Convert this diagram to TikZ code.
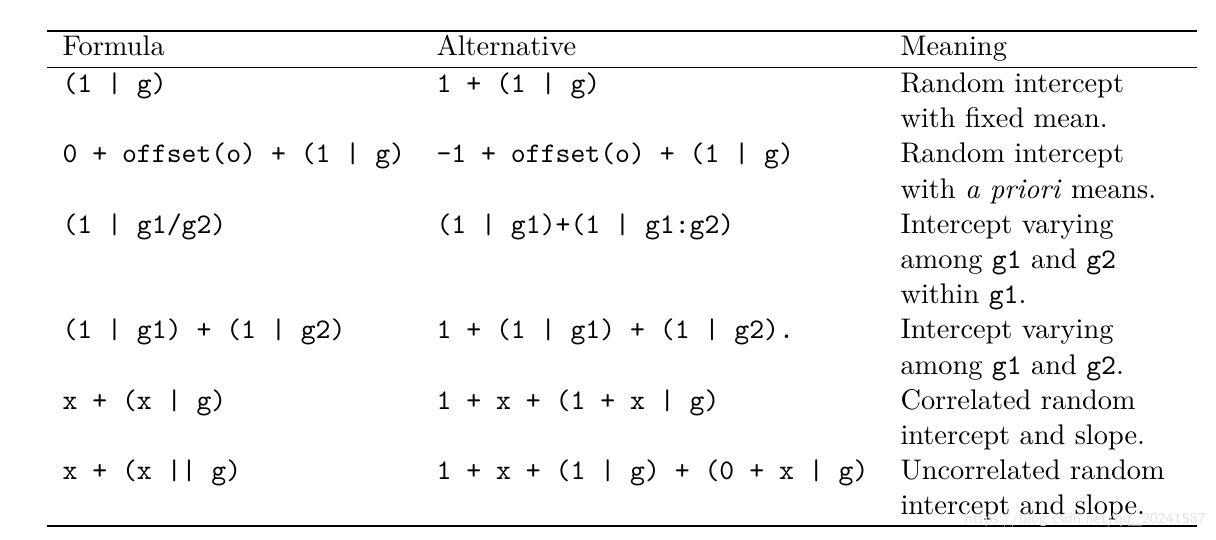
\documentclass[tikz,border=0pt]{standalone}
\usepackage{tikz}

\begin{document}
\begin{tikzpicture}[x=0.386pt, y=-0.386pt,
  cell/.style={anchor=base west, inner sep=0pt, font=\fontsize{10.95pt}{13.6pt}\selectfont},
  code/.style={cell, font=\fontsize{10.95pt}{13.6pt}\selectfont\ttfamily},
  rulethick/.style={line width=0.8pt},
  rulethin/.style={line width=0.5pt}]
\useasboundingbox (0, 0) rectangle (1216, 540);

% rules
\coordinate (topL) at (47, 31);
\coordinate (topR) at (1197, 31);
\coordinate (midL) at (47, 67.5);
\coordinate (midR) at (1197, 67.5);
\coordinate (botL) at (47, 526);
\coordinate (botR) at (1197, 526);
\draw [rulethick] (topL) -- (topR);
\draw [rulethin] (midL) -- (midR);
\draw [rulethick] (botL) -- (botR);

% header
\node [cell] (hF) at (62, 56) {Formula};
\node [cell] (hA) at (436, 56) {Alternative};
\node [cell] (hM) at (900, 56) {Meaning};

% row 1
\node [code] (F1) at (62, 92.5) {(1 | g)};
\node [code] (A1) at (436, 92.5) {1 + (1 | g)};
\node [cell] (M1a) at (900, 92.5) {Random intercept};
\node [cell] (M1b) at (900, 127.7) {with fixed mean.};

% row 2
\node [code] (F2) at (62, 162.9) {0 + offset(o) + (1 | g)};
\node [code] (A2) at (436, 162.9) {-1 + offset(o) + (1 | g)};
\node [cell] (M2a) at (900, 162.9) {Random intercept};
\node [cell] (M2b) at (900, 198.1) {with \emph{a priori} means.};

% row 3
\node [code] (F3) at (62, 233.3) {(1 | g1/g2)};
\node [code] (A3) at (436, 233.3) {(1 | g1)+(1 | g1:g2)};
\node [cell] (M3a) at (900, 233.3) {Intercept varying};
\node [cell] (M3b) at (900, 268.5) {among \texttt{g1} and \texttt{g2}};
\node [cell] (M3c) at (900, 303.7) {within \texttt{g1}.};

% row 4
\node [code] (F4) at (62, 338.9) {(1 | g1) + (1 | g2)};
\node [code] (A4) at (436, 338.9) {1 + (1 | g1) + (1 | g2).};
\node [cell] (M4a) at (900, 338.9) {Intercept varying};
\node [cell] (M4b) at (900, 374.1) {among \texttt{g1} and \texttt{g2}.};

% row 5
\node [code] (F5) at (62, 409.3) {x + (x | g)};
\node [code] (A5) at (436, 409.3) {1 + x + (1 + x | g)};
\node [cell] (M5a) at (900, 409.3) {Correlated random};
\node [cell] (M5b) at (900, 444.5) {intercept and slope.};

% row 6
\node [code] (F6) at (62, 479.7) {x + (x || g)};
\node [code] (A6) at (436, 479.7) {1 + x + (1 | g) + (0 + x | g)};
\node [cell] (M6a) at (900, 479.7) {Uncorrelated random};
\node [cell] (M6b) at (900, 514.9) {intercept and slope.};

% watermark
\node [anchor=base west, inner sep=0pt, text=gray!22, font=\fontsize{5.8pt}{7pt}\selectfont\sffamily] (wm) at (964, 523) {https://blog.csdn.net/qq\_20241587};
\end{tikzpicture}
\end{document}
